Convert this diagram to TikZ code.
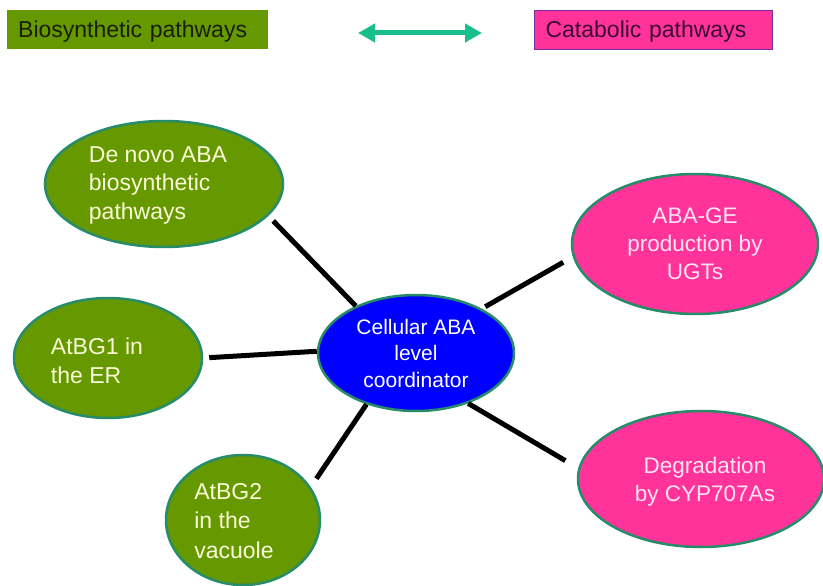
\documentclass[tikz,border=0pt]{standalone}
\usepackage{fontspec}
\setmainfont{Liberation Sans}
\usetikzlibrary{arrows.meta,shapes.geometric}
\definecolor{biogreen}{RGB}{102,153,0}
\definecolor{ringteal}{RGB}{38,140,105}
\definecolor{catpink}{RGB}{255,51,153}
\definecolor{catborder}{RGB}{112,48,160}
\definecolor{arrowteal}{RGB}{26,190,140}
\definecolor{biotext}{RGB}{250,250,215}
\definecolor{cattext}{RGB}{255,228,242}
\definecolor{darktext}{RGB}{25,30,10}
\definecolor{darkpurple}{RGB}{60,10,50}
\begin{document}
\begin{tikzpicture}[x=1pt,y=-1pt,
  legendbox/.style={rectangle, anchor=north west, minimum height=39pt, inner xsep=11pt, inner ysep=0pt, text height=16.5pt, text depth=1.5pt, align=left, font=\fontsize{23}{27}\selectfont},
  bubble/.style={ellipse, draw=ringteal, line width=2.5pt, inner sep=0pt},
  biobubble/.style={bubble, fill=biogreen},
  catbubble/.style={bubble, fill=catpink, text=cattext, align=center, font=\fontsize{22.5}{28}\selectfont},
  biolabel/.style={text=biotext, align=left, inner sep=0pt, font=\fontsize{23}{28.5}\selectfont},
  link/.style={line width=5pt, black}]
\fill[white] (0,0) rectangle (823,586);
\useasboundingbox (0,0) rectangle (823,586);

% legend
\node[legendbox, fill=biogreen, text width=239pt, text=darktext] (bio) at (7,10) {Biosynthetic pathways};
\node[legendbox, fill=catpink, draw=catborder, line width=1.2pt, text width=216pt, text=darkpurple] (cat) at (534,10) {Catabolic pathways};
\coordinate (arl) at (358,33);
\coordinate (arr) at (482,33);
\draw[arrowteal, line width=5pt, {Triangle[length=17pt,width=18pt]}-{Triangle[length=17pt,width=18pt]}] (arl) -- (arr);

% bubbles
\node[biobubble, minimum width=238pt, minimum height=126pt] (dn) at (164,184) {};
\node[biolabel] (dnt) at (158,185) {De novo ABA\\biosynthetic\\pathways};
\node[biobubble, minimum width=188pt, minimum height=120pt] (a1) at (108,358) {};
\node[biolabel] (a1t) at (97,361) {AtBG1 in\\the ER};
\node[biobubble, minimum width=154pt, minimum height=130pt] (a2) at (243,520) {};
\node[biolabel, font=\fontsize{23}{29.5}\selectfont] (a2t) at (234,521) {AtBG2\\in the\\vacuole};
\node[bubble, fill=blue, text=white, minimum width=196pt, minimum height=116pt, align=center, font=\fontsize{21}{26.5}\selectfont] (c) at (416,353) {Cellular ABA\\level\\coordinator};
\node[catbubble, minimum width=246pt, minimum height=140pt] (g) at (695,244) {ABA-GE\\production by\\UGTs};
\node[catbubble, minimum width=246pt, minimum height=136pt] (d) at (701,479) {};
\node[text=cattext, align=center, inner sep=0pt, font=\fontsize{22.5}{28}\selectfont] (dt) at (705,482) {Degradation\\by CYP707As};

% links
\draw[link, shorten <=7pt] (dn.-17) -- (c.142);
\draw[link, shorten <=6pt] (a1.east) -- (c.179);
\draw[link, shorten <=10pt] (a2.26) -- (c.226);
\draw[link, shorten <=4pt, shorten >=11pt] (c.34) -- (g.186);
\draw[link, shorten >=15pt] (c.-44) -- (d.175);
\end{tikzpicture}
\end{document}
